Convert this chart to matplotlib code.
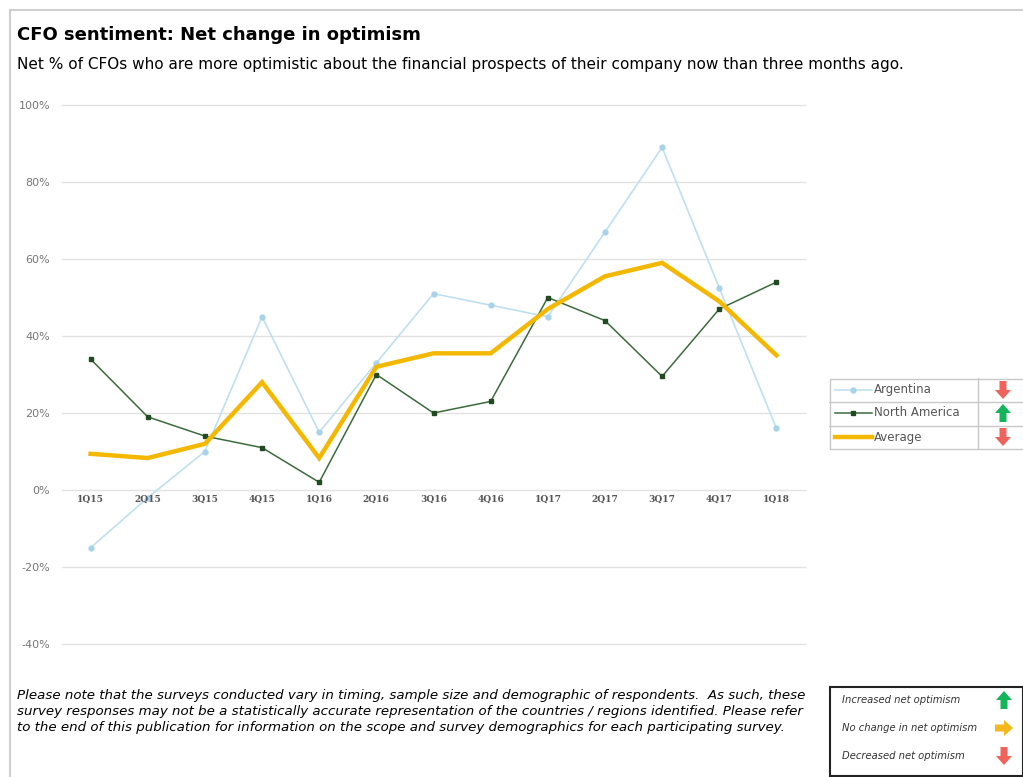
import matplotlib.pyplot as plt
from matplotlib.patches import Polygon, Rectangle

quarters = ['1Q15', '2Q15', '3Q15', '4Q15', '1Q16', '2Q16', '3Q16',
            '4Q16', '1Q17', '2Q17', '3Q17', '4Q17', '1Q18']
argentina = [-15, -2, 10, 45, 15, 33, 51, 48, 45, 67, 89, 52.5, 16]
north_america = [34, 19, 14, 11, 2, 30, 20, 23, 50, 44, 29.5, 47, 54]
average = [9.4, 8.3, 12, 28, 8.3, 32, 35.5, 35.5, 47, 55.5, 59, 49, 35]
y_ticks = [-40, -20, 0, 20, 40, 60, 80, 100]

W, H = 1023, 777
RED, GREEN, AMBER = '#f0625c', '#14b45a', '#f5b81c'


def box(x0, y0, x1, y1):
    # figure-pixel rectangle -> [left, bottom, width, height]
    return [x0 / W, 1 - y1 / H, (x1 - x0) / W, (y1 - y0) / H]


def arrow(ax, cx, cy, kind, color):
    # small block arrow, local pixel coords (y grows downward)
    if kind == 'down':
        pts = [(cx - 3.5, cy - 9), (cx + 3.5, cy - 9), (cx + 3.5, cy),
               (cx + 8, cy), (cx, cy + 9), (cx - 8, cy), (cx - 3.5, cy)]
    elif kind == 'up':
        pts = [(cx - 3.5, cy + 9), (cx + 3.5, cy + 9), (cx + 3.5, cy),
               (cx + 8, cy), (cx, cy - 9), (cx - 8, cy), (cx - 3.5, cy)]
    else:
        pts = [(cx - 9, cy - 3.5), (cx - 9, cy + 3.5), (cx, cy + 3.5),
               (cx, cy + 8), (cx + 9, cy), (cx, cy - 8), (cx, cy - 3.5)]
    ax.add_patch(Polygon(pts, closed=True, color=color, lw=0))


fig = plt.figure(figsize=(W / 100, H / 100), dpi=100)

# outer frame
fig.add_artist(Rectangle((10 / W, -0.1), 1.1, 1 - 10 / H + 0.1,
                         transform=fig.transFigure, fill=False,
                         edgecolor='#cfcfcf', lw=1.5))

fig.text(17 / W, 1 - 35 / H, 'CFO sentiment: Net change in optimism',
         fontsize=13, fontweight='bold', va='center', ha='left')
fig.text(17 / W, 1 - 64 / H,
         'Net % of CFOs who are more optimistic about the financial prospects '
         'of their company now than three months ago.',
         fontsize=11, va='center', ha='left')

ax = fig.add_axes(box(62, 105, 805, 644))
x = list(range(len(quarters)))
ax.plot(x, argentina, color='#bfe0ee', lw=1.2, marker='o', ms=3.5,
        mfc='#a9d3ea', mec='#a9d3ea', zorder=3)
ax.plot(x, north_america, color='#3c6b3c', lw=1.1, marker='s', ms=3.5,
        mfc='#224a22', mec='#224a22', zorder=4)
ax.plot(x, average, color='#f5b800', lw=3.2, zorder=5, solid_joinstyle='miter')

ax.set_xlim(-0.5, 12.5)
ax.set_ylim(-40, 100)
ax.set_yticks(y_ticks)
ax.set_yticklabels([f'{v}%' for v in y_ticks], color='#777777', fontsize=8)
ax.tick_params(axis='y', length=0, pad=8.5)
ax.set_xticks([])
ax.grid(axis='y', color='#e2e2e2', lw=1)
for gl in ax.get_ygridlines():
    gl.set_clip_on(False)
ax.set_axisbelow(True)
for s in ax.spines.values():
    s.set_visible(False)
for i, q in enumerate(quarters):
    ax.text(i, -2.5, q, ha='center', va='center', fontsize=6.5,
            fontweight='bold', family='DejaVu Serif', color='#555555')

# series legend table
lg = fig.add_axes(box(829, 378, 1023, 449))
lg.set_xlim(0, 194)
lg.set_ylim(71, 0)
lg.axis('off')
lg.add_patch(Rectangle((0.5, 0.5), 200, 70, fill=False, edgecolor='#c8c8c8',
                       lw=1, clip_on=False))
for yy in (24, 48):
    lg.plot([0, 194], [yy, yy], color='#c8c8c8', lw=1)
lg.plot([149, 149], [0, 71], color='#c8c8c8', lw=1)
lg.plot([6, 43], [12, 12], color='#bfe0ee', lw=1.2)
lg.plot([24], [12], marker='o', ms=3.5, color='#a9d3ea')
lg.plot([6, 43], [35, 35], color='#3c6b3c', lw=1.1)
lg.plot([24], [35], marker='s', ms=3.5, color='#224a22')
lg.plot([6, 43], [59, 59], color='#f5b800', lw=3.2)
for yy, name in zip((12, 35, 59), ('Argentina', 'North America', 'Average')):
    lg.text(45, yy, name, fontsize=8.5, color='#555555', va='center')
arrow(lg, 174, 12, 'down', RED)
arrow(lg, 174, 35, 'up', GREEN)
arrow(lg, 174, 59, 'down', RED)

fig.text(17 / W, 1 - 711 / H,
         'Please note that the surveys conducted vary in timing, sample size and '
         'demographic of respondents.  As such, these\nsurvey responses may not be '
         'a statistically accurate representation of the countries / regions '
         'identified. Please refer\nto the end of this publication for information '
         'on the scope and survey demographics for each participating survey.',
         fontsize=9.6, style='italic', va='center', ha='left', linespacing=1.3)

# key box
kb = fig.add_axes(box(829, 686, 1023, 776))
kb.set_xlim(0, 194)
kb.set_ylim(90, 0)
kb.axis('off')
kb.add_patch(Rectangle((0.5, 0.5), 193, 89, fill=False, edgecolor='#222222',
                       lw=1.5, clip_on=False))
for yy, label, kind, col in ((14, 'Increased net optimism', 'up', GREEN),
                             (42, 'No change in net optimism', 'right', AMBER),
                             (70, 'Decreased net optimism', 'down', RED)):
    kb.text(13, yy, label, fontsize=7.2, style='italic', color='#333333', va='center')
    arrow(kb, 175, yy, kind, col)

fig.savefig('out.png', dpi=100)
